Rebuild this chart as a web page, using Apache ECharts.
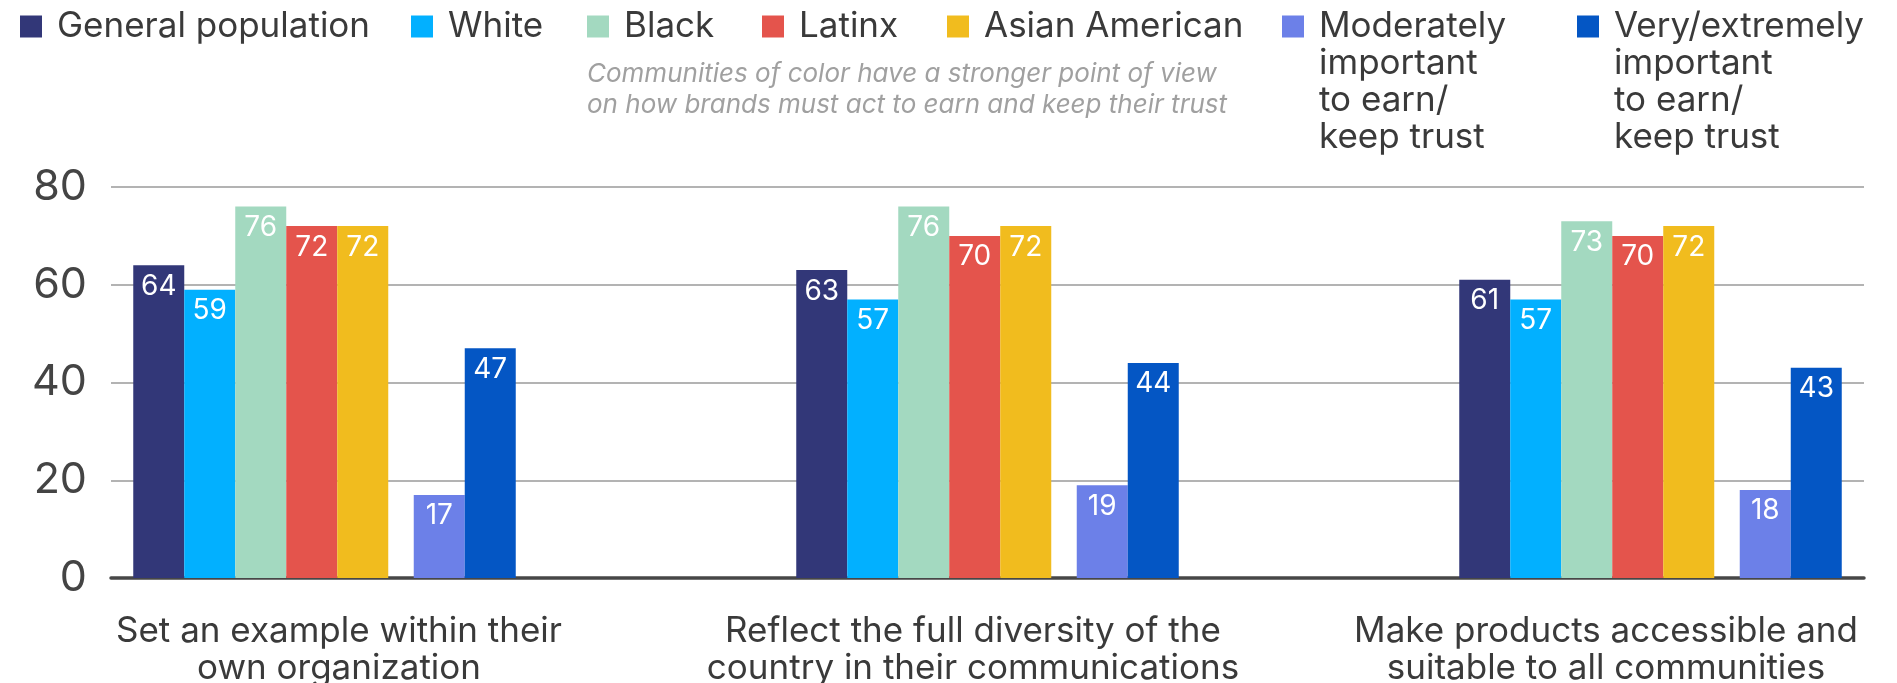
<!DOCTYPE html>
<html>
<head>
<meta charset="utf-8">
<script src="https://cdn.jsdelivr.net/npm/echarts@6/dist/echarts.min.js"></script>
<style>
  html, body { margin: 0; padding: 0; background: #ffffff; }
  #chart { width: 1897px; height: 683px; }
</style>
</head>
<body>
<div id="chart"></div>
<script>
// ---- data ----
const categories = [
  'Set an example within their\nown organization',
  'Reflect the full diversity of the\ncountry in their communications',
  'Make products accessible and\nsuitable to all communities'
];
const seriesNames = [
  'General population',
  'White',
  'Black',
  'Latinx',
  'Asian American',
  'Moderately\nimportant\nto earn/\nkeep trust',
  'Very/extremely\nimportant\nto earn/\nkeep trust'
];
const generalPopulation = [64, 63, 61];
const white = [59, 57, 57];
const black = [76, 76, 73];
const latinx = [72, 70, 70];
const asianAmerican = [72, 72, 72];
const moderatelyImportant = [17, 19, 18];
const veryImportant = [47, 44, 43];
const yTicks = [0, 20, 40, 60, 80];
const noteText = 'Communities of color have a stronger point of view\non how brands must act to earn and keep their trust';

// ---- style ----
const FONT = 'Inter, "Noto Sans", sans-serif';
const colors = ['#323778', '#02b0ff', '#a3d9c0', '#e4544c', '#f1bc1e', '#6c80e8', '#0456c4'];
const TEXT = '#3a3a3a';
const BAR_W = 51;
const gridTop = 187, gridBottom = 105;

const values = [generalPopulation, white, black, latinx, asianAmerican, moderatelyImportant, veryImportant];

function bar(i) {
  return {
    type: 'bar',
    name: seriesNames[i],
    data: values[i],
    xAxisIndex: 1,
    yAxisIndex: 1,
    barWidth: BAR_W,
    barGap: '0%',
    itemStyle: { color: colors[i] },
    label: {
      show: true,
      position: 'insideTop',
      distance: 7,
      color: '#ffffff',
      fontSize: 28,
      fontFamily: FONT
    },
    emphasis: { disabled: true }
  };
}

// empty slot separating the two groups of bars inside each category
const spacer = {
  type: 'bar',
  name: 'spacer',
  data: categories.map(() => null),
  xAxisIndex: 1,
  yAxisIndex: 1,
  barWidth: BAR_W / 2,
  barGap: '0%',
  silent: true
};

const series = [bar(0), bar(1), bar(2), bar(3), bar(4), spacer, bar(5), bar(6)];

// one legend block per entry so each sits at its own spot in the top row
const legendLeft = [20, 411, 587, 762, 947, 1282, 1577];
const tallIcon = 'path://M0 0 L0.01 0 L0 0.01 Z M0 7.5 L22 7.5 L22 29.5 L0 29.5 Z M0 148 L0.01 148 L0 147.99 Z';
const legends = seriesNames.map((name, i) => {
  const multi = name.indexOf('\n') >= 0;
  return {
    left: legendLeft[i],
    top: 8,
    padding: 0,
    data: [name],
    selectedMode: false,
    icon: multi ? tallIcon : 'rect',
    itemWidth: 22,
    itemHeight: multi ? 148 : 22,
    symbolKeepAspect: false,
    textStyle: {
      color: TEXT,
      fontSize: 35,
      lineHeight: 37,
      fontFamily: FONT,
      padding: [0, 0, 0, 10]
    }
  };
});

const labelShift = [[0, 0, 0, 29], [0, 29, 0, 0], [0, 89, 0, 0]];

const chart = echarts.init(document.getElementById('chart'), null, { renderer: 'canvas' });
chart.setOption({
  animation: false,
  backgroundColor: '#ffffff',
  legend: legends,
  graphic: [{
    type: 'text',
    left: 587,
    top: 59,
    style: {
      text: noteText,
      fill: '#a0a0a0',
      font: 'italic 26px ' + FONT,
      lineHeight: 31
    }
  }],
  grid: [
    { left: 111, right: 33, top: gridTop, bottom: gridBottom, outerBoundsMode: 'none' },
    { left: 324.5, right: 246.5, top: gridTop, bottom: gridBottom, outerBoundsMode: 'none' }
  ],
  xAxis: [
    {
      type: 'category',
      gridIndex: 0,
      data: categories,
      axisLine: { show: true, lineStyle: { color: '#474747', width: 3.5 } },
      axisTick: { show: false },
      axisLabel: { show: false },
      splitLine: { show: false }
    },
    {
      type: 'category',
      gridIndex: 1,
      boundaryGap: false,
      data: categories.map((c, i) => ({ value: c, textStyle: { padding: labelShift[i] } })),
      axisLine: { show: false },
      axisTick: { show: false },
      splitLine: { show: false },
      axisLabel: {
        interval: 0,
        color: TEXT,
        fontSize: 35,
        lineHeight: 37,
        fontFamily: FONT,
        margin: 35
      }
    }
  ],
  yAxis: [
    {
      type: 'value',
      gridIndex: 0,
      min: yTicks[0],
      max: yTicks[yTicks.length - 1],
      interval: yTicks[1] - yTicks[0],
      axisLine: { show: false },
      axisTick: { show: false },
      axisLabel: { color: '#444444', fontSize: 43, fontFamily: FONT, margin: 24 },
      splitLine: { lineStyle: { color: '#b3b3b3', width: 2 } }
    },
    {
      type: 'value',
      gridIndex: 1,
      min: yTicks[0],
      max: yTicks[yTicks.length - 1],
      interval: yTicks[1] - yTicks[0],
      show: false
    }
  ],
  series: series
});
</script>
</body>
</html>
